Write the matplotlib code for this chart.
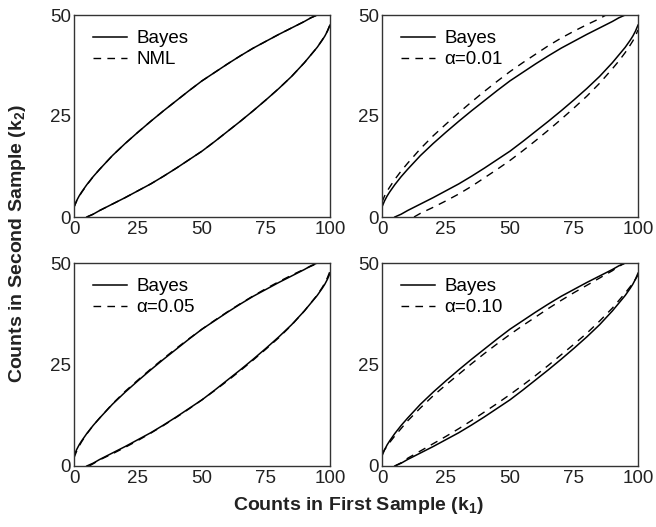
import matplotlib
matplotlib.use("Agg")
import matplotlib.pyplot as plt

plt.rcParams['font.family'] = ['Liberation Sans', 'DejaVu Sans']
plt.rcParams['mathtext.fontset'] = 'custom'
plt.rcParams['mathtext.rm'] = 'Liberation Sans'
plt.rcParams['mathtext.bf'] = 'Liberation Sans:bold'

# ---------------- data ----------------
# Bayes boundaries (same in all four panels)
bayes_up_x = [0, 1, 2, 3, 5, 7.5, 10, 15, 20, 25, 30, 35, 40, 45, 50, 55, 60, 65, 70, 75, 80, 85, 90, 92.5, 95]
bayes_up_y = [2.5, 4.0, 5.2, 6.2, 8.0, 10.0, 11.8, 15.2, 18.2, 21.0, 23.7, 26.3, 28.8, 31.3, 33.7, 35.8, 37.9, 39.9, 41.8, 43.5, 45.2, 46.8, 48.4, 49.3, 50.0]
bayes_lo_x = [5, 7.5, 10, 15, 20, 25, 30, 35, 40, 45, 50, 55, 60, 65, 70, 75, 80, 85, 90, 95, 97, 98, 99, 100]
bayes_lo_y = [0.0, 0.7, 1.6, 3.2, 4.8, 6.5, 8.2, 10.1, 12.1, 14.2, 16.3, 18.7, 21.2, 23.7, 26.3, 29.0, 31.8, 34.8, 38.2, 42.0, 43.8, 44.8, 46.0, 47.5]

# NML boundaries (nearly identical to Bayes)
nml_up_x = [0, 1, 2, 3, 5, 7.5, 10, 15, 20, 25, 30, 35, 40, 45, 50, 55, 60, 65, 70, 75, 80, 85, 90, 92.5, 95]
nml_up_y = [2.4, 3.9, 5.1, 6.1, 7.9, 10.0, 11.8, 15.2, 18.2, 21.0, 23.7, 26.3, 28.8, 31.3, 33.7, 35.8, 37.9, 39.9, 41.8, 43.5, 45.2, 46.8, 48.4, 49.3, 50.0]
nml_lo_x = [5, 7.5, 10, 15, 20, 25, 30, 35, 40, 45, 50, 55, 60, 65, 70, 75, 80, 85, 90, 95, 97, 98, 99, 100]
nml_lo_y = [0.0, 0.7, 1.6, 3.2, 4.8, 6.5, 8.2, 10.1, 12.1, 14.2, 16.3, 18.7, 21.2, 23.7, 26.3, 29.0, 31.8, 34.8, 38.2, 42.0, 43.9, 44.9, 46.1, 47.6]

# alpha = 0.01
a01_up_x = [0, 1, 2, 3, 5, 7.5, 10, 15, 20, 25, 30, 35, 40, 45, 50, 55, 60, 65, 70, 75, 80, 85, 87.5]
a01_up_y = [3.7, 5.2, 6.4, 7.4, 9.3, 11.4, 13.3, 16.9, 20.1, 23.0, 25.8, 28.5, 31.1, 33.6, 36.0, 38.2, 40.3, 42.4, 44.3, 46.0, 47.6, 49.1, 50.0]
a01_lo_x = [12.5, 15, 20, 25, 30, 35, 40, 45, 50, 55, 60, 65, 70, 75, 80, 85, 90, 92.5, 95, 97, 98, 99, 100]
a01_lo_y = [0.0, 0.9, 2.4, 4.0, 5.7, 7.6, 9.7, 11.8, 14.0, 16.4, 18.9, 21.5, 24.2, 27.0, 29.9, 33.1, 36.7, 38.6, 40.7, 42.6, 43.6, 44.8, 46.3]

# alpha = 0.05
a05_up_x = [0, 1, 2, 3, 5, 7.5, 10, 15, 20, 25, 30, 35, 40, 45, 50, 55, 60, 65, 70, 75, 80, 85, 90, 94, 96]
a05_up_y = [2.0, 3.6, 4.9, 6.0, 7.9, 10.0, 11.8, 15.3, 18.4, 21.2, 23.9, 26.5, 29.0, 31.4, 33.7, 35.9, 38.0, 40.0, 41.9, 43.7, 45.4, 47.0, 48.5, 49.6, 50.0]
a05_lo_x = [6, 10, 15, 20, 25, 30, 35, 40, 45, 50, 55, 60, 65, 70, 75, 80, 85, 90, 95, 97, 98, 99, 100]
a05_lo_y = [0.0, 1.5, 3.0, 4.6, 6.3, 8.1, 10.0, 12.0, 14.1, 16.3, 18.6, 21.0, 23.5, 26.1, 28.8, 31.6, 34.7, 38.2, 42.1, 44.0, 45.1, 46.4, 48.0]

# alpha = 0.10
a10_up_x = [0, 1, 3, 5, 10, 15, 20, 25, 30, 35, 40, 45, 50, 55, 60, 65, 70, 75, 80, 85, 90, 92.5, 95]
a10_up_y = [3.0, 4.0, 5.8, 7.4, 11.1, 14.3, 17.3, 20.0, 22.6, 25.2, 27.7, 30.1, 32.4, 34.6, 36.7, 38.8, 40.8, 42.7, 44.5, 46.3, 48.1, 49.2, 50.0]
a10_lo_x = [5, 7.5, 10, 15, 20, 25, 30, 35, 40, 45, 50, 55, 60, 65, 70, 75, 80, 85, 90, 95, 97, 99, 100]
a10_lo_y = [0.0, 0.8, 1.9, 3.7, 5.5, 7.3, 9.2, 11.2, 13.3, 15.4, 17.6, 19.9, 22.3, 24.8, 27.4, 30.0, 32.7, 35.7, 38.9, 42.6, 44.2, 46.0, 47.0]

x_ticks = [0, 25, 50, 75, 100]
y_ticks = [0, 25, 50]

panels = [
    ("NML", (nml_up_x, nml_up_y), (nml_lo_x, nml_lo_y)),
    ("α=0.01", (a01_up_x, a01_up_y), (a01_lo_x, a01_lo_y)),
    ("α=0.05", (a05_up_x, a05_up_y), (a05_lo_x, a05_lo_y)),
    ("α=0.10", (a10_up_x, a10_up_y), (a10_lo_x, a10_lo_y)),
]

# ---------------- figure ----------------
W, H = 656, 527
fig = plt.figure(figsize=(W / 100, H / 100), dpi=100)

boxes = [  # left, top, right, bottom in pixels
    (74, 15, 330, 217),
    (382, 15, 638, 217),
    (74, 263, 330, 466),
    (382, 263, 638, 466),
]

dash = (0, (5.5, 4.5))
for (label, up, lo), (l, t, r, b) in zip(panels, boxes):
    ax = fig.add_axes([l / W, 1 - b / H, (r - l) / W, (b - t) / H])
    ax.plot(bayes_up_x, bayes_up_y, color='black', lw=1.1, label='Bayes')
    ax.plot(bayes_lo_x, bayes_lo_y, color='black', lw=1.1)
    ax.plot(up[0], up[1], color='black', lw=1.0, linestyle=dash, label=label)
    ax.plot(lo[0], lo[1], color='black', lw=1.0, linestyle=dash)
    ax.set_xlim(0, 100)
    ax.set_ylim(0, 50)
    ax.set_xticks(x_ticks)
    ax.set_yticks(y_ticks)
    ax.tick_params(length=0, labelsize=13.5, pad=2, colors='#222222')
    ax.tick_params(axis='x', pad=3)
    for s in ax.spines.values():
        s.set_color('#333333')
        s.set_linewidth(1.0)
    ax.legend(loc='upper left', bbox_to_anchor=(0.075, 0.925), frameon=False,
              fontsize=13.5, handlelength=1.8, handletextpad=0.5,
              labelspacing=0.2, borderpad=0, borderaxespad=0)

fig.text(358 / W, 1 - 505 / H, r'Counts in First Sample ($\mathbf{k_1}$)',
         ha='center', va='center', fontsize=14, fontweight='bold', color='#222222')
fig.text(18 / W, 1 - 243 / H, r'Counts in Second Sample ($\mathbf{k_2}$)',
         ha='center', va='center', rotation=90, fontsize=14, fontweight='bold',
         color='#222222')

fig.savefig('out.png', dpi=100)
